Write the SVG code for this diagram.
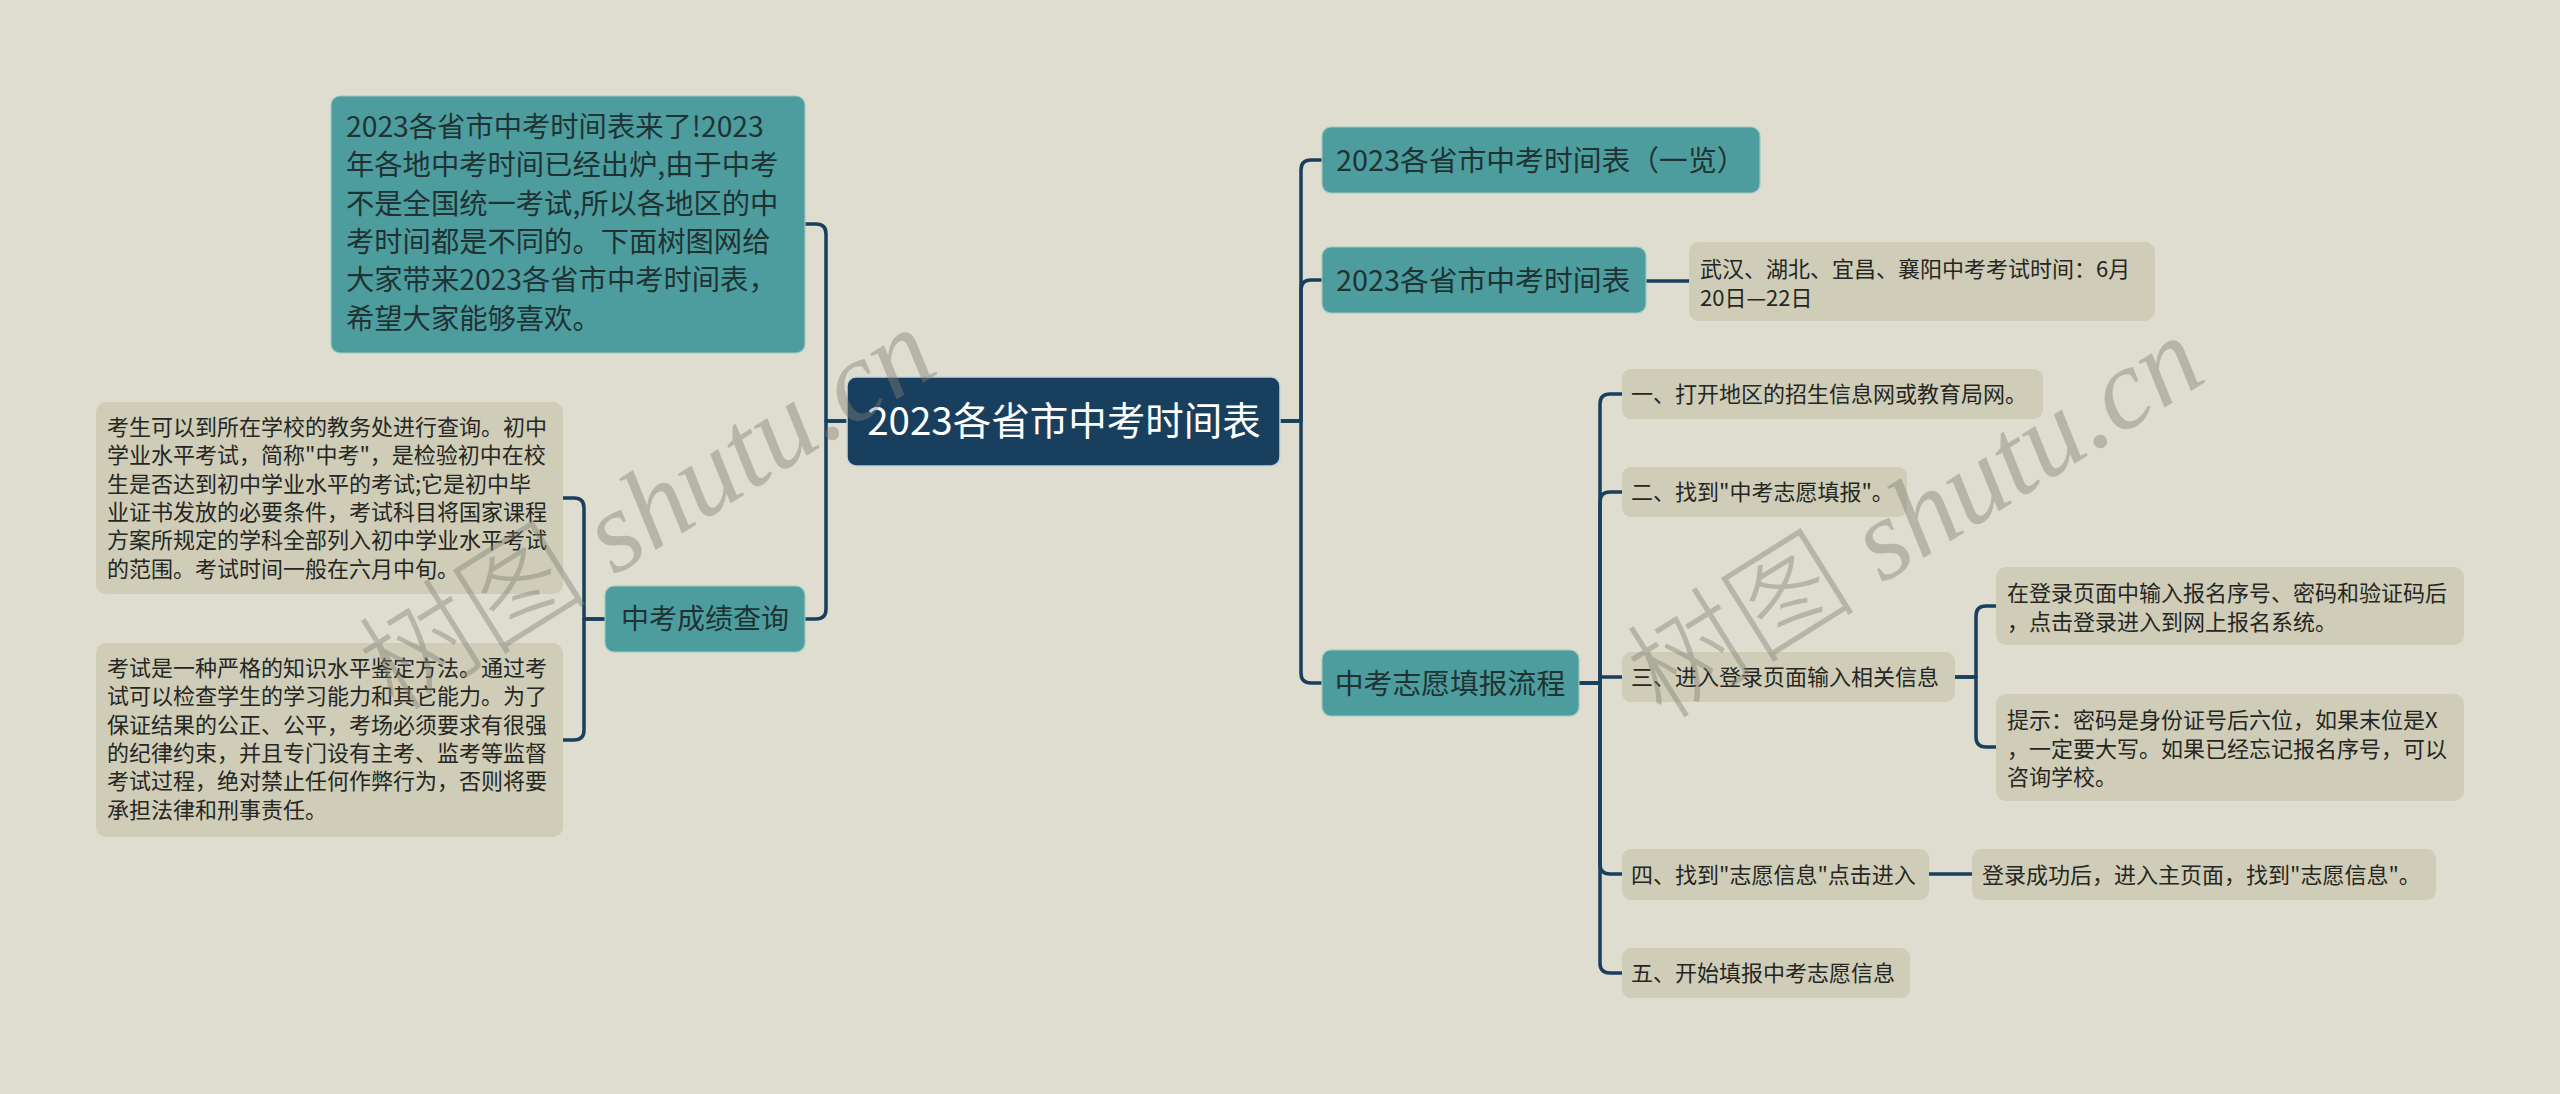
<svg xmlns="http://www.w3.org/2000/svg" width="2560" height="1094" viewBox="0 0 2560 1094">
<style>
.bg{fill:#DFDDCF}
.root{fill:#193F5F;stroke:#C9D3D6;stroke-width:1.5}
.teal{fill:#4E9D9E;stroke:#9CC9C4;stroke-width:1.2}
.leaf{fill:#CFCDB8}
.t{font-family:"Noto Sans CJK SC","Microsoft YaHei",sans-serif}
.rt{fill:#FFFFFF;font-size:38.5px}
.tt{fill:#1F3234}
.lt{fill:#262622;font-size:22px}
.conn path{fill:none;stroke:#193F5F;stroke-width:3.5;stroke-linecap:round;stroke-linejoin:round}
.wm{fill:#7F7F72;opacity:0.42;font-size:115px}
</style>
<rect class="bg" x="0" y="0" width="2560" height="1094"/>

<g id="connectors" class="conn">
<path d="M1280,421 H1301 V170 Q1301,160 1311,160 H1322"/>
<path d="M1280,421 H1301 V290 Q1301,280 1311,280 H1322"/>
<path d="M1280,421 H1301 V673 Q1301,683 1311,683 H1322"/>
<path d="M847,421 H826 V234 Q826,224 816,224 H805"/>
<path d="M847,421 H826 V609 Q826,619 816,619 H805"/>
<path d="M605,619 H584 V508 Q584,498 574,498 H563"/>
<path d="M605,619 H584 V730 Q584,740 574,740 H563"/>
<path d="M1646,281 H1689"/>
<path d="M1579,683 H1600 V404 Q1600,394 1610,394 H1622"/>
<path d="M1579,683 H1600 V502 Q1600,492 1610,492 H1622"/>
<path d="M1600,677 H1622"/>
<path d="M1579,683 H1600 V864 Q1600,874 1610,874 H1622"/>
<path d="M1579,683 H1600 V963 Q1600,973 1610,973 H1622"/>
<path d="M1955,677 H1976 V616 Q1976,606 1986,606 H1996"/>
<path d="M1955,677 H1976 V737 Q1976,747 1986,747 H1996"/>
<path d="M1929,874 H1972"/>
</g>

<g id="root">
<rect class="root" x="847" y="377" width="433" height="89" rx="9"/>
<text class="t rt" x="1064" y="435" text-anchor="middle">2023各省市中考时间表</text>
</g>

<g id="intro">
<rect class="teal" x="331" y="96" width="474" height="257" rx="9"/>
<text class="t tt" font-size="28.3" x="346">
<tspan x="346" y="137">2023各省市中考时间表来了!2023</tspan>
<tspan x="346" y="175.3">年各地中考时间已经出炉,由于中考</tspan>
<tspan x="346" y="213.7">不是全国统一考试,所以各地区的中</tspan>
<tspan x="346" y="252">考时间都是不同的。下面树图网给</tspan>
<tspan x="346" y="290.3">大家带来2023各省市中考时间表，</tspan>
<tspan x="346" y="328.7">希望大家能够喜欢。</tspan>
</text>
</g>

<g id="score">
<rect class="teal" x="605" y="586" width="200" height="66" rx="9"/>
<text class="t tt" font-size="28" x="705" y="629" text-anchor="middle">中考成绩查询</text>
</g>

<g id="score-leaf1">
<rect class="leaf" x="96" y="402" width="467" height="192" rx="10"/>
<text class="t lt" x="107">
<tspan x="107" y="435">考生可以到所在学校的教务处进行查询。初中</tspan>
<tspan x="107" y="463.3">学业水平考试，简称"中考"，是检验初中在校</tspan>
<tspan x="107" y="491.7">生是否达到初中学业水平的考试;它是初中毕</tspan>
<tspan x="107" y="520">业证书发放的必要条件，考试科目将国家课程</tspan>
<tspan x="107" y="548.3">方案所规定的学科全部列入初中学业水平考试</tspan>
<tspan x="107" y="576.7">的范围。考试时间一般在六月中旬。</tspan>
</text>
</g>

<g id="score-leaf2">
<rect class="leaf" x="96" y="643" width="467" height="194" rx="10"/>
<text class="t lt" x="107">
<tspan x="107" y="676">考试是一种严格的知识水平鉴定方法。通过考</tspan>
<tspan x="107" y="704.3">试可以检查学生的学习能力和其它能力。为了</tspan>
<tspan x="107" y="732.7">保证结果的公正、公平，考场必须要求有很强</tspan>
<tspan x="107" y="761">的纪律约束，并且专门设有主考、监考等监督</tspan>
<tspan x="107" y="789.3">考试过程，绝对禁止任何作弊行为，否则将要</tspan>
<tspan x="107" y="817.7">承担法律和刑事责任。</tspan>
</text>
</g>

<g id="overview">
<rect class="teal" x="1322" y="127" width="438" height="66" rx="9"/>
<text class="t tt" font-size="28.8" x="1336" y="171">2023各省市中考时间表（一览）</text>
</g>

<g id="schedule">
<rect class="teal" x="1322" y="247" width="324" height="66" rx="9"/>
<text class="t tt" font-size="28.8" x="1336" y="291">2023各省市中考时间表</text>
</g>

<g id="schedule-leaf">
<rect class="leaf" x="1689" y="242" width="466" height="79" rx="10"/>
<text class="t lt" x="1700">
<tspan x="1700" y="277">武汉、湖北、宜昌、襄阳中考考试时间：6月</tspan>
<tspan x="1700" y="305.5">20日—22日</tspan>
</text>
</g>

<g id="process">
<rect class="teal" x="1322" y="650" width="257" height="66" rx="9"/>
<text class="t tt" font-size="28.8" x="1450" y="694" text-anchor="middle">中考志愿填报流程</text>
</g>

<g id="step1">
<rect class="leaf" x="1622" y="369" width="421" height="50" rx="9"/>
<text class="t lt" x="1631" y="402">一、打开地区的招生信息网或教育局网。</text>
</g>

<g id="step2">
<rect class="leaf" x="1622" y="467" width="285" height="50" rx="9"/>
<text class="t lt" x="1631" y="500">二、找到"中考志愿填报"。</text>
</g>

<g id="step3">
<rect class="leaf" x="1622" y="652" width="333" height="50" rx="9"/>
<text class="t lt" x="1631" y="685">三、进入登录页面输入相关信息</text>
</g>

<g id="step3-leaf1">
<rect class="leaf" x="1996" y="567" width="468" height="78" rx="10"/>
<text class="t lt" x="2007">
<tspan x="2007" y="601">在登录页面中输入报名序号、密码和验证码后</tspan>
<tspan x="2007" y="629.5">，点击登录进入到网上报名系统。</tspan>
</text>
</g>

<g id="step3-leaf2">
<rect class="leaf" x="1996" y="694" width="468" height="107" rx="10"/>
<text class="t lt" x="2007">
<tspan x="2007" y="728">提示：密码是身份证号后六位，如果末位是X</tspan>
<tspan x="2007" y="756.5">，一定要大写。如果已经忘记报名序号，可以</tspan>
<tspan x="2007" y="785">咨询学校。</tspan>
</text>
</g>

<g id="step4">
<rect class="leaf" x="1622" y="849" width="307" height="51" rx="9"/>
<text class="t lt" x="1631" y="883">四、找到"志愿信息"点击进入</text>
</g>

<g id="step4-leaf">
<rect class="leaf" x="1972" y="849" width="464" height="51" rx="9"/>
<text class="t lt" x="1982" y="883">登录成功后，进入主页面，找到"志愿信息"。</text>
</g>

<g id="step5">
<rect class="leaf" x="1622" y="948" width="288" height="50" rx="9"/>
<text class="t lt" x="1631" y="981">五、开始填报中考志愿信息</text>
</g>

<g id="watermarks">
<text class="wm" transform="translate(648,510) rotate(-32)" text-anchor="middle" y="38"><tspan font-family="Noto Sans CJK SC,sans-serif" font-weight="300">树图</tspan><tspan font-family="Liberation Serif,serif" font-style="italic"> shutu.cn</tspan></text>
<text class="wm" transform="translate(1916,518) rotate(-32)" text-anchor="middle" y="38"><tspan font-family="Noto Sans CJK SC,sans-serif" font-weight="300">树图</tspan><tspan font-family="Liberation Serif,serif" font-style="italic"> shutu.cn</tspan></text>
</g>
</svg>
